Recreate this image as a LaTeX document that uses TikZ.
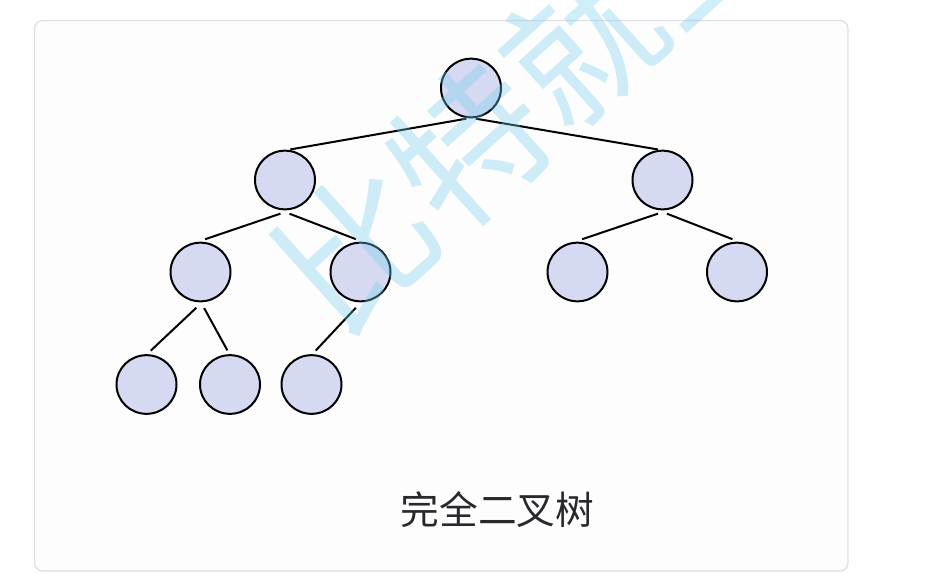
\documentclass[tikz,border=0pt]{standalone}
\usepackage{fontspec}
\newfontfamily\cjk{Noto Sans CJK SC}
\usetikzlibrary{shapes.geometric}
\definecolor{nodefill}{RGB}{213,218,242}
\definecolor{frameline}{RGB}{222,222,230}
\definecolor{framefill}{RGB}{253,253,253}
\definecolor{wmblue}{RGB}{120,205,238}
\definecolor{captext}{RGB}{40,40,45}

\begin{document}
\begin{tikzpicture}[x=0.75pt,y=-0.75pt,
  vtx/.style={ellipse,draw,line width=1.5pt,fill=nodefill,minimum width=45pt,minimum height=44pt,inner sep=0pt},
  edge/.style={line width=1.5pt,shorten <=1.5pt,shorten >=1pt}]
  \useasboundingbox (0,0) rectangle (939,572);
  % card behind the tree
  \draw[frameline,fill=framefill,line width=0.9pt,rounded corners=6pt] (34.5,20.5) rectangle (848,571);
  % levels of the tree
  \node[vtx] (root) at (471,88) {};
  \node[vtx] (a) at (285,180) {};
  \node[vtx] (b) at (662.5,180) {};
  \node[vtx] (aa) at (200.5,272) {};
  \node[vtx] (ab) at (360.5,272) {};
  \node[vtx] (ba) at (577.5,272) {};
  \node[vtx] (bb) at (737,272) {};
  \node[vtx] (aaa) at (146.5,384.5) {};
  \node[vtx] (aab) at (230,384.5) {};
  \node[vtx] (aba) at (311.5,384.5) {};
  % connectors (slightly off the centres, with small gaps)
  \draw[edge] ([xshift=-2pt]root.south) -- ([xshift=3pt]a.north);
  \draw[edge] ([xshift=2pt]root.south) -- ([xshift=-2.5pt]b.north);
  \draw[edge] ([xshift=-2pt,yshift=-2pt]a.south) -- ([xshift=2.5pt,yshift=1.5pt]aa.north);
  \draw[edge] ([xshift=2pt,yshift=-2pt]a.south) -- ([xshift=-2.5pt,yshift=1.5pt]ab.north);
  \draw[edge] ([xshift=-2pt,yshift=-2pt]b.south) -- ([xshift=2.5pt,yshift=1.5pt]ba.north);
  \draw[edge] ([xshift=2pt,yshift=-2pt]b.south) -- ([xshift=-2.5pt,yshift=1.5pt]bb.north);
  \draw[edge] ([xshift=-2pt,yshift=-3pt]aa.south) -- ([xshift=2.5pt,yshift=2pt]aaa.north);
  \draw[edge] ([xshift=2pt,yshift=-3pt]aa.south) -- ([xshift=-1.5pt,yshift=2pt]aab.north);
  \draw[edge] ([xshift=-2.5pt,yshift=-3pt]ab.south) -- ([xshift=2.5pt,yshift=2pt]aba.north);
  % caption
  \node[font=\cjk\fontsize{29}{32}\selectfont,text=captext] (cap) at (497.5,510) {完全二叉树};
  % watermark on top, cut at the page edge
  \begin{scope}
    \clip (0,0) rectangle (939,572);
    \node[rotate=42,text=wmblue,opacity=0.35,font=\cjk\fontsize{114}{114}\selectfont] (wm) at (526,95) {比特就业};
  \end{scope}
\end{tikzpicture}
\end{document}
